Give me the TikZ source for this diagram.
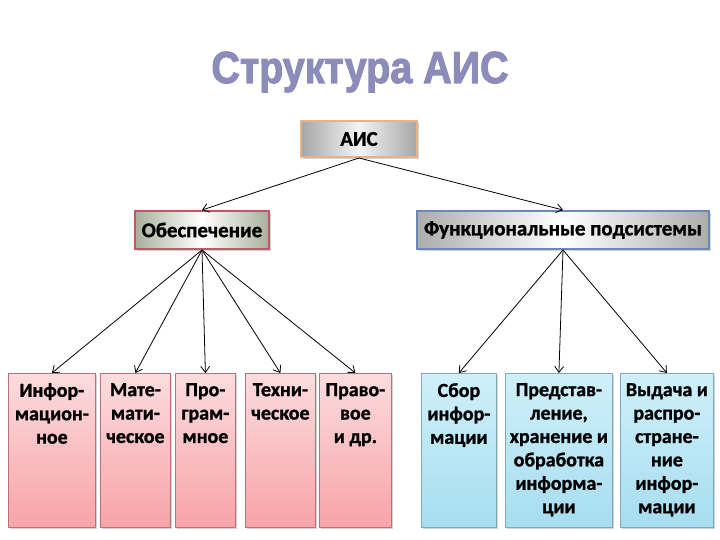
\documentclass[tikz,border=0pt]{standalone}
\usepackage{fontspec}
\setmainfont{Carlito}[BoldFeatures={FakeBold=1.2}]
\newfontfamily\titlefont{Liberation Sans}[BoldFeatures={FakeBold=2.5}]
\usetikzlibrary{arrows.meta,shadows}
\definecolor{titlecol}{HTML}{8C8CBA}
\definecolor{pinktop}{HTML}{FCDCDE}
\definecolor{pinkbot}{HTML}{F7A3A7}
\definecolor{pinkbd}{HTML}{B8707A}
\definecolor{bluetop}{HTML}{CFF0FA}
\definecolor{bluebot}{HTML}{A6DDF0}
\definecolor{bluebd}{HTML}{7FA8B8}
\definecolor{aisbd}{HTML}{E4B48C}
\definecolor{obbd}{HTML}{C05868}
\definecolor{fnbd}{HTML}{6A88B8}
\definecolor{obedge}{HTML}{A8B09C}
\begin{document}
\begin{tikzpicture}[x=1bp,y=-1bp,
  shd/.style={drop shadow={shadow xshift=1.5bp,shadow yshift=-2bp,opacity=0.35}},
  lbox/.style={shd,draw=pinkbd,line width=0.8bp,top color=pinktop,bottom color=pinkbot,anchor=north west,inner sep=0pt},
  rbox/.style={shd,draw=bluebd,line width=0.8bp,top color=bluetop,bottom color=bluebot,anchor=north west,inner sep=0pt},
  hbox/.style={shd,line width=2bp,font=\fontsize{21}{24}\selectfont\bfseries,inner sep=0pt,anchor=north west},
  btxt/.style={font=\fontsize{20}{23.5}\selectfont\bfseries,align=center,anchor=north,inner sep=0pt},
  arr/.style={draw=black,line width=0.8bp,-{Straight Barb[length=6bp,width=9bp]}},
]
\useasboundingbox (0,0) rectangle (720,540);
% title
\node[font=\titlefont\fontsize{45}{50}\selectfont\bfseries,text=titlecol,xscale=0.88,inner sep=0pt] (title) at (360,72) {Структура АИС};
% header boxes
\node[hbox,draw=aisbd,left color=gray!70,right color=gray!70,middle color=blue!6!gray!8,minimum width=116bp,minimum height=36bp] (ais) at (300,120) {АИС};
\node[hbox,draw=obbd,left color=obedge,right color=obedge,middle color=white,minimum width=134bp,minimum height=38bp] (obesp) at (134,210) {Обеспечение};
\node[hbox,draw=fnbd,left color=gray!65,right color=gray!65,middle color=white,minimum width=292bp,minimum height=38bp] (func) at (416,210) {Функциональные подсистемы};
% left boxes
\node[lbox,minimum width=87bp,minimum height=154bp] (b1) at (8,373) {};
\node[lbox,minimum width=70bp,minimum height=154bp] (b2) at (100,373) {};
\node[lbox,minimum width=60bp,minimum height=154bp] (b3) at (175,373) {};
\node[lbox,minimum width=70bp,minimum height=154bp] (b4) at (245,373) {};
\node[lbox,minimum width=72bp,minimum height=154bp] (b5) at (319,373) {};
% right boxes
\node[rbox,minimum width=75bp,minimum height=154bp] (c1) at (421,373) {};
\node[rbox,minimum width=107bp,minimum height=154bp] (c2) at (505,373) {};
\node[rbox,minimum width=93bp,minimum height=154bp] (c3) at (620,373) {};
% texts
\node[btxt] (t1) at ([yshift=-10bp]b1.north) {Инфор-\\мацион-\\ное};
\node[btxt] (t2) at ([yshift=-10bp]b2.north) {Мате-\\мати-\\ческое};
\node[btxt] (t3) at ([yshift=-10bp]b3.north) {Про-\\грам-\\мное};
\node[btxt] (t4) at ([yshift=-10bp]b4.north) {Техни-\\ческое};
\node[btxt] (t5) at ([yshift=-10bp]b5.north) {Право-\\вое\\и др.};
\node[btxt] (u1) at ([yshift=-10bp]c1.north) {Сбор\\инфор-\\мации};
\node[btxt] (u2) at ([yshift=-10bp]c2.north) {Представ-\\ление,\\хранение и\\обработка\\информа-\\ции};
\node[btxt] (u3) at ([yshift=-10bp]c3.north) {Выдача и\\распро-\\стране-\\ние\\инфор-\\мации};
% arrows
\draw[arr] (ais.south) -- (obesp.north);
\draw[arr] (ais.south) -- (func.north);
\foreach \b in {b1,b2,b3,b4,b5} \draw[arr] (obesp.south) -- (\b.north);
\foreach \c in {c1,c2,c3} \draw[arr] (func.south) -- (\c.north);
\end{tikzpicture}
\end{document}
